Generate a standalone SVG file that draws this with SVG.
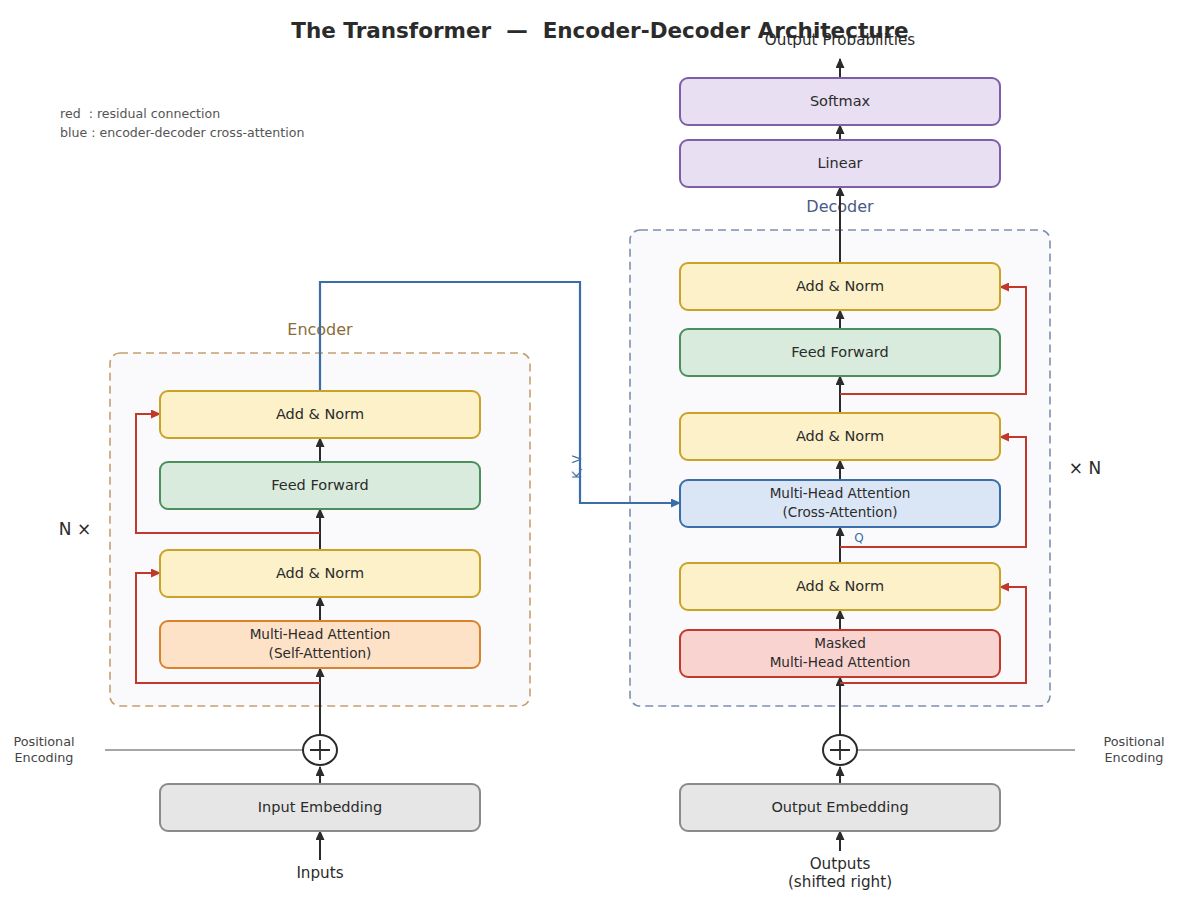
<svg xmlns="http://www.w3.org/2000/svg" width="1200" height="900" viewBox="0 0 1200 900">
<defs>
<marker id="ak" viewBox="0 0 10 10" refX="9" refY="5" markerWidth="10" markerHeight="9" orient="auto" markerUnits="userSpaceOnUse" preserveAspectRatio="none"><path d="M0,0 L10,5 L0,10 z" fill="#2b2b2b"/></marker>
<marker id="ar" viewBox="0 0 10 10" refX="9" refY="5" markerWidth="10" markerHeight="9" orient="auto" markerUnits="userSpaceOnUse" preserveAspectRatio="none"><path d="M0,0 L10,5 L0,10 z" fill="#c0392b"/></marker>
<marker id="ab" viewBox="0 0 10 10" refX="9" refY="5" markerWidth="10" markerHeight="9" orient="auto" markerUnits="userSpaceOnUse" preserveAspectRatio="none"><path d="M0,0 L10,5 L0,10 z" fill="#3a6ea8"/></marker>
<style>
text{font-family:"DejaVu Sans","Liberation Sans",sans-serif;fill:#2b2b2b}
.box{stroke-width:2}
.lbl{font-size:14.5px;text-anchor:middle}
.io{font-size:15.2px;text-anchor:middle}
.lbl2{font-size:13.6px;text-anchor:middle}
.an{fill:#fcf1c9;stroke:#c9a227}
.ff{fill:#d9ebdc;stroke:#4a8f5c}
.sa{fill:#fde2c8;stroke:#d9822b}
.ca{fill:#dae6f5;stroke:#3a6ea8}
.ma{fill:#f8d3cf;stroke:#c0392b}
.em{fill:#e6e6e6;stroke:#8a8a8a}
.ou{fill:#e8dff2;stroke:#7d5ea8}
.ar{stroke:#2b2b2b;stroke-width:2;fill:none;marker-end:url(#ak)}
.res{stroke:#c0392b;stroke-width:2;fill:none;marker-end:url(#ar)}
.crs{stroke:#3a6ea8;stroke-width:2.2;fill:none;marker-end:url(#ab)}
.pe{stroke:#888;stroke-width:1.6}
.small{font-size:12.8px;fill:#444;text-anchor:middle}
</style>
</defs>
<rect width="1200" height="900" fill="#ffffff"/>

<text x="600" y="38" font-size="21.5" font-weight="bold" text-anchor="middle" xml:space="preserve">The Transformer  —  Encoder-Decoder Architecture</text>
<text x="60" y="118" font-size="12.6" style="fill:#555" xml:space="preserve">red  : residual connection</text>
<text x="60" y="137" font-size="12.6" style="fill:#555">blue : encoder-decoder cross-attention</text>

<g id="encoder-container">
<rect x="110" y="353" width="420" height="353" rx="10" fill="#fafafd" stroke="#c4a06e" stroke-width="1.6" stroke-dasharray="8,5"/>
<text x="320" y="335" font-size="16" text-anchor="middle" style="fill:#8a6d3b">Encoder</text>
<text x="75" y="535" font-size="17" text-anchor="middle">N ×</text>
</g>
<g id="decoder-container">
<rect x="630" y="230" width="420" height="476" rx="10" fill="#fafafd" stroke="#7f8fb0" stroke-width="1.6" stroke-dasharray="8,5"/>
<text x="840" y="212" font-size="16" text-anchor="middle" style="fill:#4a5a85">Decoder</text>
<text x="1085" y="474" font-size="17" text-anchor="middle">× N</text>
</g>

<g id="connectors">
<line class="ar" x1="320" y1="860" x2="320" y2="831"/>
<line class="ar" x1="320" y1="784" x2="320" y2="767"/>
<line class="ar" x1="320" y1="735" x2="320" y2="668"/>
<line class="ar" x1="320" y1="621" x2="320" y2="597"/>
<line class="ar" x1="320" y1="550" x2="320" y2="509"/>
<line class="ar" x1="320" y1="462" x2="320" y2="438"/>
<polyline class="res" points="320,683 136,683 136,573 160,573"/>
<polyline class="res" points="320,533 136,533 136,414 160,414"/>
<polyline class="crs" points="320,391 320,282 580,282 580,503 680,503"/>
<line class="ar" x1="840" y1="851" x2="840" y2="831"/>
<line class="ar" x1="840" y1="784" x2="840" y2="767"/>
<line class="ar" x1="840" y1="735" x2="840" y2="677"/>
<line class="ar" x1="840" y1="630" x2="840" y2="610"/>
<line class="ar" x1="840" y1="563" x2="840" y2="527"/>
<line class="ar" x1="840" y1="480" x2="840" y2="460"/>
<line class="ar" x1="840" y1="413" x2="840" y2="376"/>
<line class="ar" x1="840" y1="329" x2="840" y2="310"/>
<line class="ar" x1="840" y1="263" x2="840" y2="187"/>
<line class="ar" x1="840" y1="140" x2="840" y2="125"/>
<line class="ar" x1="840" y1="78" x2="840" y2="59"/>
<polyline class="res" points="840,683 1026,683 1026,587 1000,587"/>
<polyline class="res" points="840,547 1026,547 1026,437 1000,437"/>
<polyline class="res" points="840,394 1026,394 1026,287 1000,287"/>
<text x="859" y="542" font-size="12" text-anchor="middle" style="fill:#3a6ea8">Q</text>
<text x="0" y="0" font-size="12" text-anchor="middle" transform="translate(581,467) rotate(-90)" style="fill:#3a6ea8">K, V</text>
<line class="pe" x1="105" y1="750" x2="303" y2="750"/>
<line class="pe" x1="857" y1="750" x2="1075" y2="750"/>
</g>

<g id="pos-enc-left"><text class="small" x="44" y="746">Positional</text><text class="small" x="44" y="762">Encoding</text></g>
<g id="pos-enc-right"><text class="small" x="1134" y="746">Positional</text><text class="small" x="1134" y="762">Encoding</text></g>

<g id="add-left"><ellipse cx="320" cy="750" rx="17" ry="15" fill="#fff" stroke="#2b2b2b" stroke-width="2"/><path d="M310,750 H330 M320,740 V760" stroke="#2b2b2b" stroke-width="1.8"/></g>
<g id="add-right"><ellipse cx="840" cy="750" rx="17" ry="15" fill="#fff" stroke="#2b2b2b" stroke-width="2"/><path d="M830,750 H850 M840,740 V760" stroke="#2b2b2b" stroke-width="1.8"/></g>

<g id="inputs"><text class="io" x="320" y="878">Inputs</text></g>
<g id="outputs"><text class="io" x="840" y="869">Outputs</text><text class="io" x="840" y="887">(shifted right)</text></g>
<g id="output-probs"><text class="io" x="840" y="45">Output Probabilities</text></g>

<g id="enc-addnorm2"><rect class="box an" x="160" y="391" width="320" height="47" rx="8"/><text class="lbl" x="320" y="419">Add &amp; Norm</text></g>
<g id="enc-ff"><rect class="box ff" x="160" y="462" width="320" height="47" rx="8"/><text class="lbl" x="320" y="490">Feed Forward</text></g>
<g id="enc-addnorm1"><rect class="box an" x="160" y="550" width="320" height="47" rx="8"/><text class="lbl" x="320" y="578">Add &amp; Norm</text></g>
<g id="enc-mha"><rect class="box sa" x="160" y="621" width="320" height="47" rx="8"/><text class="lbl2" x="320" y="639">Multi-Head Attention</text><text class="lbl2" x="320" y="658">(Self-Attention)</text></g>
<g id="input-embedding"><rect class="box em" x="160" y="784" width="320" height="47" rx="8"/><text class="lbl" x="320" y="812">Input Embedding</text></g>

<g id="softmax"><rect class="box ou" x="680" y="78" width="320" height="47" rx="8"/><text class="lbl" x="840" y="106">Softmax</text></g>
<g id="linear"><rect class="box ou" x="680" y="140" width="320" height="47" rx="8"/><text class="lbl" x="840" y="168">Linear</text></g>
<g id="dec-addnorm3"><rect class="box an" x="680" y="263" width="320" height="47" rx="8"/><text class="lbl" x="840" y="291">Add &amp; Norm</text></g>
<g id="dec-ff"><rect class="box ff" x="680" y="329" width="320" height="47" rx="8"/><text class="lbl" x="840" y="357">Feed Forward</text></g>
<g id="dec-addnorm2"><rect class="box an" x="680" y="413" width="320" height="47" rx="8"/><text class="lbl" x="840" y="441">Add &amp; Norm</text></g>
<g id="dec-cross"><rect class="box ca" x="680" y="480" width="320" height="47" rx="8"/><text class="lbl2" x="840" y="498">Multi-Head Attention</text><text class="lbl2" x="840" y="517">(Cross-Attention)</text></g>
<g id="dec-addnorm1"><rect class="box an" x="680" y="563" width="320" height="47" rx="8"/><text class="lbl" x="840" y="591">Add &amp; Norm</text></g>
<g id="dec-masked"><rect class="box ma" x="680" y="630" width="320" height="47" rx="8"/><text class="lbl2" x="840" y="648">Masked</text><text class="lbl2" x="840" y="667">Multi-Head Attention</text></g>
<g id="output-embedding"><rect class="box em" x="680" y="784" width="320" height="47" rx="8"/><text class="lbl" x="840" y="812">Output Embedding</text></g>
</svg>
